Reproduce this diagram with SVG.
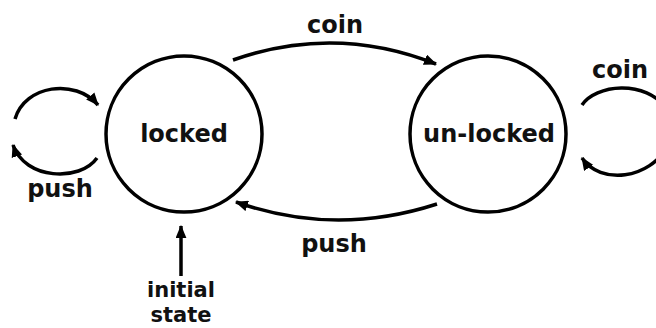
<svg xmlns="http://www.w3.org/2000/svg" width="656" height="328" viewBox="0 0 656 328">
<style>
.node{fill:#fff;stroke:#000;stroke-width:3.5}
.lbl{font-family:"DejaVu Sans",Verdana,sans-serif;font-weight:bold;font-size:24px;fill:#111;text-anchor:middle}
.small{font-size:21px}
.edge{fill:none;stroke:#000;stroke-width:3.5}
</style>
<defs>
<marker id="ah" viewBox="0 0 12 10" refX="11" refY="5" markerWidth="13" markerHeight="11" markerUnits="userSpaceOnUse" orient="auto">
<path d="M0,0 L12,5 L0,10 Z" fill="#000"/>
</marker>
</defs>
<rect width="656" height="328" fill="#fff"/>
<g id="locked">
<circle class="node" cx="184" cy="134" r="78"/>
<text class="lbl" x="184" y="142">locked</text>
</g>
<g id="unlocked">
<circle class="node" cx="488" cy="134" r="78"/>
<text class="lbl" x="489" y="142">un-locked</text>
</g>
<g id="connectors">
<path class="edge" d="M233,60 Q335,24 436,64" marker-end="url(#ah)"/>
<text class="lbl" x="335" y="33">coin</text>
<path class="edge" d="M437,204 Q335,237 236,202" marker-end="url(#ah)"/>
<text class="lbl" x="334" y="252">push</text>
<path class="edge" d="M15,119 C25,85 75,78 98,105" marker-end="url(#ah)"/>
<path class="edge" d="M97,158 C80,182 25,180 13,145" marker-end="url(#ah)"/>
<text class="lbl" x="60" y="197">push</text>
<path class="edge" d="M582,105 C595,85 645,78 668,110"/>
<path class="edge" d="M668,145 C650,180 600,185 582,158" marker-end="url(#ah)"/>
<text class="lbl" x="620" y="78">coin</text>
<path class="edge" d="M181,276 L181,226" marker-end="url(#ah)"/>
<text class="lbl small" x="181" y="297">initial</text>
<text class="lbl small" x="181" y="322">state</text>
</g>
</svg>
